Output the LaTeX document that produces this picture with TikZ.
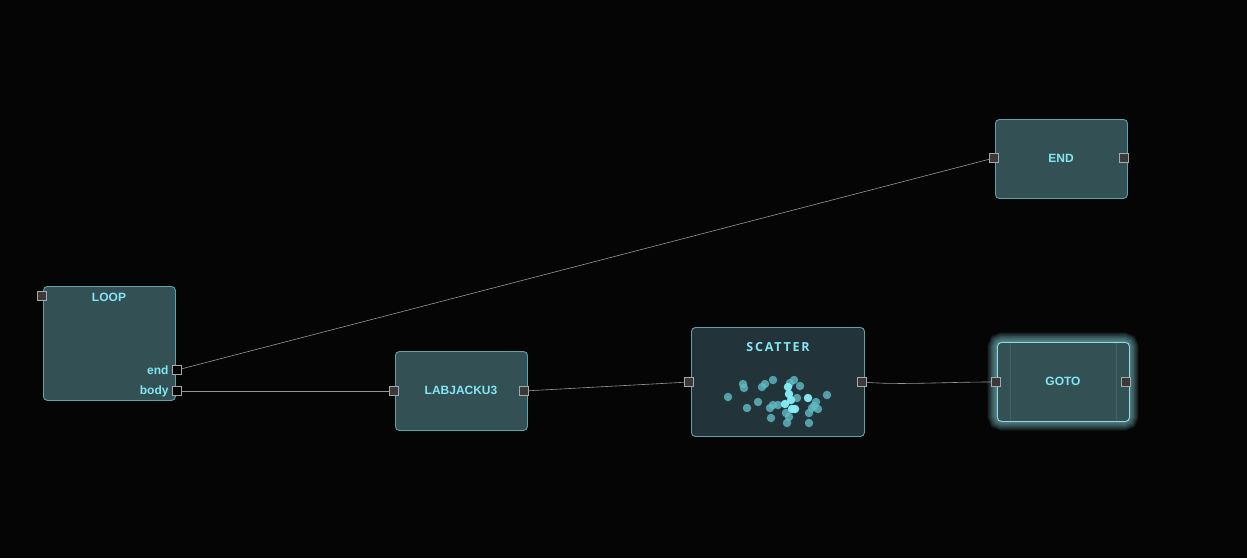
\documentclass[tikz,border=0pt]{standalone}
\usepackage{fontspec}
\setmainfont{Liberation Sans}
\newfontfamily\scatterfont[LetterSpace=14]{Open Sans}
\usepackage{tikz}
\usetikzlibrary{positioning}
\definecolor{bgc}{HTML}{050505}
\definecolor{nodefill}{HTML}{335055}
\definecolor{plotfill}{HTML}{22333A}
\definecolor{nodeline}{HTML}{5FA3AA}
\definecolor{labelc}{HTML}{84E6F2}
\definecolor{portfill}{HTML}{3A3A3A}
\definecolor{portline}{HTML}{A8A8A8}
\definecolor{wirec}{HTML}{969696}
\definecolor{dotc}{HTML}{62BCC4}
\definecolor{hotc}{HTML}{8AEFF8}
\definecolor{glowc}{HTML}{8FDCE6}
\tikzstyle{block} = [rectangle, rounded corners=4pt, draw=nodeline, line width=0.9pt, fill=nodefill, anchor=north west, inner sep=0pt]
\tikzstyle{port} = [rectangle, minimum size=9pt, inner sep=0pt, draw=portline, line width=0.9pt, fill=portfill]
\tikzstyle{outport} = [port, fill=black]
\tikzstyle{title} = [text=labelc, font=\bfseries\fontsize{12}{14}\selectfont]
\tikzstyle{wire} = [draw=wirec, line width=0.6pt]
\tikzstyle{dot} = [circle, fill=dotc, fill opacity=0.8, inner sep=0pt, minimum size=8.5pt]
\tikzstyle{hotdot} = [dot, fill=hotc, fill opacity=0.95]

\begin{document}
\begin{tikzpicture}[x=1pt, y=-1pt]
		\useasboundingbox[fill=bgc] (0,0) rectangle (1247,558);

		% blocks
		\node (loop) [block, minimum width=132pt, minimum height=114pt] at (43,286) {};
		\node (labjack) [block, minimum width=132pt, minimum height=79pt] at (395,351) {};
		\node (scatter) [block, fill=plotfill, minimum width=173pt, minimum height=109pt] at (691,327) {};
		\node (end) [block, minimum width=132pt, minimum height=79pt] at (995,119) {};
		% glow round GOTO
		\foreach \g in {1,...,12}
			\draw [glowc, opacity=0.07, line width=\g*1.6pt, rounded corners=5pt] (997,342) rectangle (1129,421);
		\node (goto) [block, draw=glowc, minimum width=132pt, minimum height=79pt] at (997,342) {};
		\draw [glowc, opacity=0.15, line width=0.6pt] (1010,343) -- (1010,420);
		\draw [glowc, opacity=0.15, line width=0.6pt] (1116,343) -- (1116,420);

		% texts
		\node (looptitle) [title] at (109,297) {LOOP};
		\node (labjacktitle) [title] at (461,390) {LABJACKU3};
		\node (endtitle) [title] at (1061,158) {END};
		\node (gototitle) [title] at (1063,381) {GOTO};
		\node (scattertitle) [text=labelc, font=\scatterfont\bfseries\fontsize{12.5}{14}\selectfont] at (778,347) {SCATTER};

		% ports
		\node (loopin) [port] at (42,296) {};
		\node (loopend) [outport] at (177,370) {};
		\node (loopbody) [outport] at (177,391) {};
		\node (endlabel) [title, anchor=east] at (loopend.west) {end\hspace{7pt}};
		\node (bodylabel) [title, anchor=east] at (loopbody.west) {body\hspace{1pt}};
		\node (labjackin) [port] at (394,391) {};
		\node (labjackout) [port] at (524,391) {};
		\node (scatterin) [port] at (689,382) {};
		\node (scatterout) [port] at (862,382) {};
		\node (endin) [port] at (994,158) {};
		\node (endout) [port] at (1124,158) {};
		\node (gotoin) [port] at (996,382) {};
		\node (gotoout) [port] at (1126,382) {};

		% wires
		\draw [wire] (loopend) -- (endin);
		\draw [wire] (loopbody) -- (labjackin);
		\draw [wire] (labjackout) -- (scatterin);
		\draw [wire] (scatterout) .. controls +(40,3) and +(-50,0) .. (gotoin);

		% scatter points
		\foreach \px/\py in {728/397, 743/384, 744/388, 762/387, 765/384, 773/380, 794/380, 790/383, 800/386,
			747/408, 758/402, 770/408, 773/405, 778/405, 797/398, 786/413, 789/417, 771/418, 787/423,
			816/402, 814/406, 818/409, 809/413, 812/408, 827/395, 809/423}
			\node [dot] at (\px,\py) {};
		\foreach \px/\py in {788/387, 789/394, 791/400, 785/404, 792/409, 795/409, 808/398}
			\node [hotdot] at (\px,\py) {};
	\end{tikzpicture}
\end{document}
